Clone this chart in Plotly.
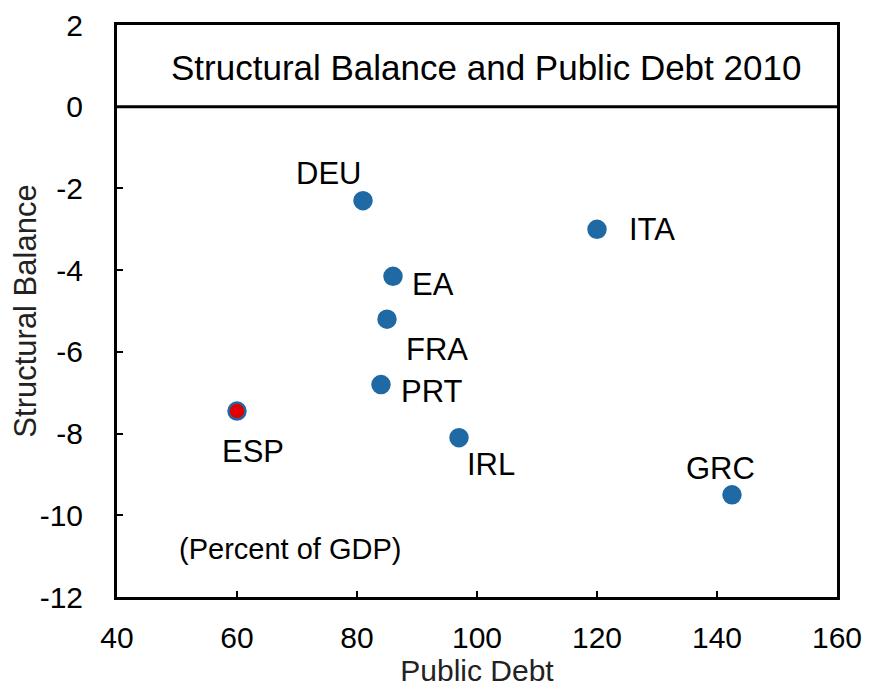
import plotly.graph_objects as go

# Data (percent of GDP), 2010
countries = ['DEU', 'ITA', 'EA', 'FRA', 'PRT', 'ESP', 'IRL', 'GRC']
public_debt = [81.0, 120.0, 86.0, 85.0, 84.0, 60.0, 97.0, 142.5]
structural_balance = [-2.3, -3.0, -4.15, -5.2, -6.8, -7.45, -8.1, -9.5]

x_ticks = [40, 60, 80, 100, 120, 140, 160]
y_ticks = [2, 0, -2, -4, -6, -8, -10, -12]

# label offsets in pixels (xshift, yshift)
label_offsets = {
    'DEU': (-35, 27), 'ITA': (55, 0), 'EA': (40, -8), 'FRA': (50, -30),
    'PRT': (51, -7), 'ESP': (16, -40), 'IRL': (32, -27), 'GRC': (-11, 26),
}

FONT = 'Liberation Sans, Arial, sans-serif'
BLUE = '#1f6aa5'

colors = ['#e00000' if c == 'ESP' else BLUE for c in countries]

fig = go.Figure()
fig.add_trace(go.Scatter(
    x=public_debt, y=structural_balance, mode='markers',
    marker=dict(size=17, color=colors, line=dict(color=BLUE, width=2.5)),
    hoverinfo='text', text=countries, showlegend=False,
))

for c, x, y in zip(countries, public_debt, structural_balance):
    dx, dy = label_offsets[c]
    fig.add_annotation(x=x, y=y, text=c, showarrow=False, xshift=dx, yshift=dy,
                       font=dict(size=31, color='black', family=FONT))

fig.add_annotation(x=68.8, y=-10.83, text='(Percent of GDP)', showarrow=False,
                   font=dict(size=29, color='black', family=FONT))
fig.add_annotation(x=101.5, y=0.97, text='Structural Balance and Public Debt 2010',
                   showarrow=False, font=dict(size=35, color='black', family=FONT))

# title band separator
fig.add_shape(type='line', xref='paper', x0=0, x1=1, y0=0, y1=0,
              line=dict(color='black', width=3))

axis_common = dict(
    showline=True, linecolor='black', linewidth=3, mirror=True,
    ticks='inside', ticklen=6, tickcolor='black', tickwidth=2,
    showgrid=False, zeroline=False, automargin=False,
    ticklabeloverflow='allow',
    tickfont=dict(size=30, color='black', family=FONT),
)

fig.update_xaxes(range=[40, 160.001], tickvals=x_ticks,
                 ticktext=[str(v) for v in x_ticks], ticklabelstandoff=12,
                 **axis_common,
                 title=dict(text='Public Debt', standoff=7,
                            font=dict(size=30, color='#222', family=FONT)))
fig.update_yaxes(range=[-12, 2.001], tickvals=y_ticks,
                 ticktext=[str(v) for v in y_ticks], ticklabelstandoff=25,
                 **axis_common,
                 title=dict(text='Structural Balance', standoff=0,
                            font=dict(size=31, color='#222', family=FONT)))

fig.update_layout(
    width=874, height=691,
    margin=dict(l=109, r=45, t=17, b=102),
    paper_bgcolor='white', plot_bgcolor='white',
)

fig.write_html("out.html")
